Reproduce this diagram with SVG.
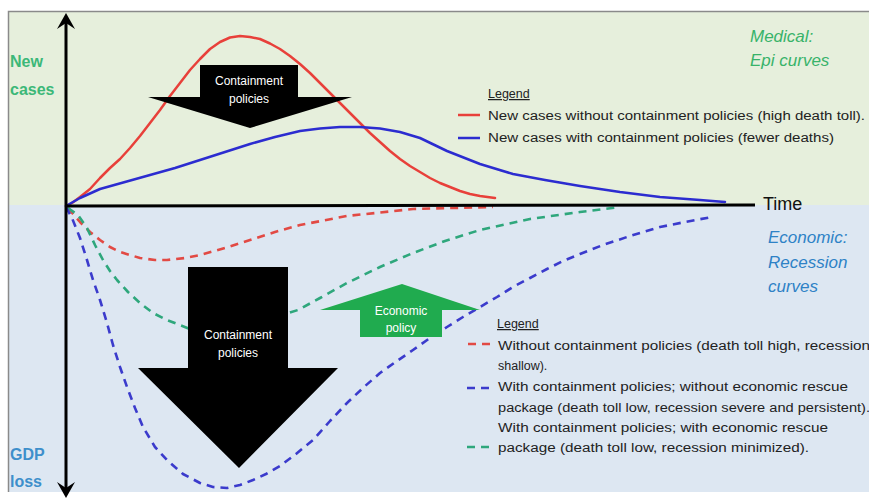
<svg xmlns="http://www.w3.org/2000/svg" width="869" height="501" viewBox="0 0 869 501">
<style>
.lab{font-family:"Liberation Sans",Arial,sans-serif;}
.leg{font-family:"Liberation Sans",Arial,sans-serif;font-size:12.5px;fill:#222;}
.arrtxt{font-family:"Liberation Sans",Arial,sans-serif;font-size:12px;fill:#fff;text-anchor:middle;}
.c{fill:none;stroke-width:2.5;stroke-linejoin:round;stroke-linecap:round;}
.d{fill:none;stroke-width:2.6;stroke-dasharray:8 6;stroke-linejoin:round;}
.red{stroke:#e8403a;}
.blue{stroke:#2c2cd0;}
.dred{stroke:#e24a44;}
.dblue{stroke:#3b3bcc;}
.dgreen{stroke:#2ea77c;}
</style>
<rect width="869" height="501" fill="#fff"/>
<g id="backgrounds">
<rect x="8" y="11" width="861" height="194" fill="#e6efdc"/>
<rect x="8" y="205" width="861" height="287" fill="#dde7f2"/>
<path d="M8.5,492 V11.5 H869" fill="none" stroke="#8a8a8a" stroke-width="1.5"/>
</g>
<g id="curves">
<polyline class="c red" points="66,206 72,203 80,197 90,189 100,178 110,168 120,159 130,148 140,136 150,123 160,110 170,96 180,83 190,70 200,59 210,49 220,42 230,37.5 240,36 250,37 260,39 270,43.5 280,49 290,56 300,64 310,73 320,83 330,93 340,103 350,113 360,123 370,133 380,142 390,151 400,159 410,166 420,172 430,178 440,183 450,187 460,191 470,194 480,196 495,198"/>
<polyline class="c blue" points="66,206 80,198 100,189 125,182 150,175 175,168 200,160 225,152 250,144 275,137 300,131 320,128.5 340,127 360,127 380,128.5 400,132 420,138 447,151 480,164 513,174 545,180 580,186 620,192 660,197 700,200 725,202"/>
<polyline class="d dred" points="68,208 80,222 90,232 100,240 110,247 120,252 140,258 155,260 167,260 185,258 200,255 225,248 250,240 275,232 300,225 347,216 413,209 493,207"/>
<polyline class="d dgreen" points="68,208 78,215 87,228 95,245 103,260 110,271 117,280 128,292 140,303 153,313 167,320 190,329 215,331 250,325 298,310 320,298 347,283 380,267 413,253 445,241 480,230 530,219 580,212 620,207"/>
<polyline class="d dblue" points="66,207 72,218 80,238 87,260 93,280 100,300 107,323 113,345 120,367 127,387 135,408 143,427 155,447 167,460 183,474 200,483 213,487 227,488 240,485 253,480 266,474 280,466 296,454 313,440 330,421 347,403 364,387 380,373 397,361 413,350 430,338 447,327 463,317 480,307 497,297 513,287 530,278 547,269 563,261 580,254 603,245 627,237 643,232 660,227 685,222 712,217"/>
</g>
<g id="axes">
<line x1="66" y1="206" x2="755" y2="205" stroke="#000" stroke-width="3"/>
<path d="M66,492 V18" stroke="#000" stroke-width="3" fill="none"/>
<path d="M57,29 L66,13 L75,29 L66,23 Z" fill="#000"/>
<path d="M57,482 L66,498 L75,482 L66,488 Z" fill="#000"/>
</g>
<g id="axis-labels" class="lab">
<text x="10" y="67" font-size="16" font-weight="bold" fill="#3cb878">New</text>
<text x="10" y="95" font-size="16" font-weight="bold" fill="#3cb878">cases</text>
<text x="10" y="460" font-size="16" font-weight="bold" fill="#3d8fcb">GDP</text>
<text x="10" y="487" font-size="16" font-weight="bold" fill="#3d8fcb">loss</text>
<text x="763" y="210" font-size="18" fill="#111">Time</text>
<text x="750" y="42" font-size="17" font-style="italic" fill="#38b36a">Medical:</text>
<text x="750" y="66" font-size="17" font-style="italic" fill="#38b36a">Epi curves</text>
<text x="768" y="243" font-size="17" font-style="italic" fill="#2e82c6">Economic:</text>
<text x="768" y="268" font-size="17" font-style="italic" fill="#2e82c6">Recession</text>
<text x="768" y="292" font-size="17" font-style="italic" fill="#2e82c6">curves</text>
</g>
<g id="containment-top">
<path d="M200,65 H298 V97 H352 L250,128 L148,97 H200 Z" fill="#000"/>
<text class="arrtxt" x="249" y="85">Containment</text>
<text class="arrtxt" x="249" y="103">policies</text>
</g>
<g id="containment-bottom">
<path d="M188,267 H288 V368 H338 L239,468 L138,368 H188 Z" fill="#000"/>
<text class="arrtxt" x="238" y="339">Containment</text>
<text class="arrtxt" x="238" y="357">policies</text>
</g>
<g id="economic-policy">
<path d="M402,284 L480,310 H442 V337 H360 V310 H320 Z" fill="#20ab4f"/>
<text class="arrtxt" x="401" y="315" fill="#e6f5e6">Economic</text>
<text class="arrtxt" x="401" y="332" fill="#e6f5e6">policy</text>
</g>
<g id="legend-top">
<text class="leg" x="488" y="98" text-decoration="underline">Legend</text>
<line x1="458" y1="115" x2="480" y2="115" class="red" stroke-width="2.5"/>
<text class="leg" x="488" y="120" textLength="377" lengthAdjust="spacingAndGlyphs">New cases without containment policies (high death toll).</text>
<line x1="458" y1="138" x2="480" y2="138" class="blue" stroke-width="2.5"/>
<text class="leg" x="488" y="142" textLength="346" lengthAdjust="spacingAndGlyphs">New cases with containment policies (fewer deaths)</text>
</g>
<g id="legend-bottom">
<text class="leg" x="497" y="328" text-decoration="underline">Legend</text>
<line x1="468" y1="344" x2="490" y2="344" class="d dred"/>
<text class="leg" x="498" y="350" textLength="372" lengthAdjust="spacingAndGlyphs">Without containment policies (death toll high, recession</text>
<text class="leg" x="498" y="370">shallow).</text>
<line x1="467" y1="388" x2="490" y2="388" class="d dblue"/>
<text class="leg" x="498" y="391" textLength="350" lengthAdjust="spacingAndGlyphs">With containment policies; without economic rescue</text>
<text class="leg" x="498" y="412" textLength="372" lengthAdjust="spacingAndGlyphs">package (death toll low, recession severe and persistent).</text>
<text class="leg" x="498" y="432" textLength="330" lengthAdjust="spacingAndGlyphs">With containment policies; with economic rescue</text>
<line x1="467" y1="447" x2="490" y2="447" class="d dgreen"/>
<text class="leg" x="498" y="452" textLength="311" lengthAdjust="spacingAndGlyphs">package (death toll low, recession minimized).</text>
</g>
</svg>
